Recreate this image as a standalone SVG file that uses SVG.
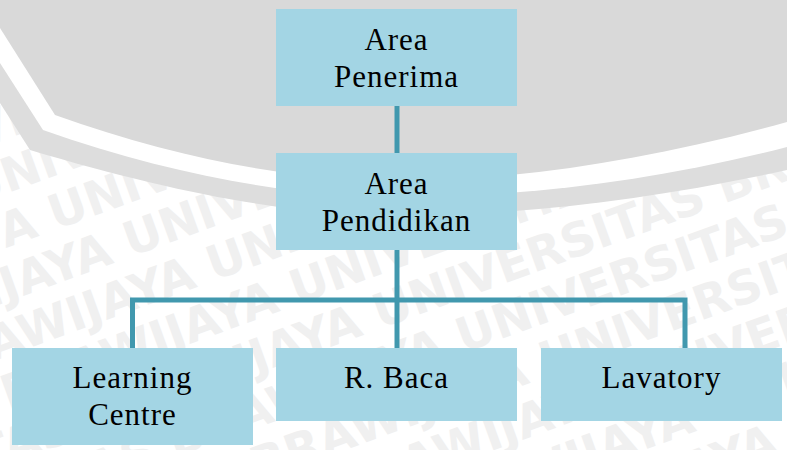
<svg xmlns="http://www.w3.org/2000/svg" width="787" height="450" viewBox="0 0 787 450">
  <style>
    .wm { font-family: "DejaVu Sans", sans-serif; font-weight: bold; font-size: 47px; fill: #f0f0f0; }
    .box { fill: #a3d5e4; }
    .lbl { font-family: "Liberation Serif", serif; font-size: 31px; letter-spacing: 1px; fill: #000; text-anchor: middle; }
    .wire { fill: none; stroke: #4198ae; stroke-width: 5; stroke-linecap: butt; stroke-linejoin: miter; }
  </style>

  <!-- background -->
  <rect x="0" y="0" width="787" height="450" fill="#ffffff"/>

  <!-- faint repeated lettering -->
  <g id="backdrop-lettering" class="wm" transform="rotate(-20)">
    <text x="-474" y="133">BRAWIJAYA UNIVERSITAS BRAWIJAYA UNIVERSITAS BRAWIJAYA UNIVERSITAS</text>
    <text x="-404" y="184">BRAWIJAYA UNIVERSITAS BRAWIJAYA UNIVERSITAS BRAWIJAYA UNIVERSITAS</text>
    <text x="-334" y="235">BRAWIJAYA UNIVERSITAS BRAWIJAYA UNIVERSITAS BRAWIJAYA UNIVERSITAS</text>
    <text x="-946" y="286">BRAWIJAYA UNIVERSITAS BRAWIJAYA UNIVERSITAS BRAWIJAYA UNIVERSITAS</text>
    <text x="-876" y="337">BRAWIJAYA UNIVERSITAS BRAWIJAYA UNIVERSITAS BRAWIJAYA UNIVERSITAS</text>
    <text x="-806" y="388">BRAWIJAYA UNIVERSITAS BRAWIJAYA UNIVERSITAS BRAWIJAYA UNIVERSITAS</text>
    <text x="-736" y="439">BRAWIJAYA UNIVERSITAS BRAWIJAYA UNIVERSITAS BRAWIJAYA UNIVERSITAS</text>
    <text x="-666" y="490">BRAWIJAYA UNIVERSITAS BRAWIJAYA UNIVERSITAS BRAWIJAYA UNIVERSITAS</text>
    <text x="-596" y="541">BRAWIJAYA UNIVERSITAS BRAWIJAYA UNIVERSITAS BRAWIJAYA UNIVERSITAS</text>
    <text x="-526" y="592">BRAWIJAYA UNIVERSITAS BRAWIJAYA UNIVERSITAS BRAWIJAYA UNIVERSITAS</text>
    <text x="-456" y="643">BRAWIJAYA UNIVERSITAS BRAWIJAYA UNIVERSITAS BRAWIJAYA UNIVERSITAS</text>
    <text x="-386" y="694">BRAWIJAYA UNIVERSITAS BRAWIJAYA UNIVERSITAS BRAWIJAYA UNIVERSITAS</text>
  </g>

  <!-- dome: outer grey rim, white ring, inner grey field -->
  <g id="backdrop-dome">
    <path d="M0,0 H787 V170 C650,200 520,215 400,216 C300,216 180,195 30,150 L0,103 Z" fill="#dddddd"/>
    <path d="M0,0 H787 V147 C650,182 520,197 400,197 C300,197 180,178 43,130 L0,63 Z" fill="#ffffff"/>
    <path d="M0,0 H787 V122 C650,160 520,180 400,181 C300,181 180,160 55,115 L0,28 Z" fill="#d9d9d9"/>
  </g>

  <!-- connectors -->
  <g id="connectors" class="wire">
    <line x1="397" y1="106" x2="397" y2="153"/>
    <line x1="397" y1="250" x2="397" y2="348"/>
    <polyline points="132.5,348 132.5,300 685,300 685,348"/>
  </g>

  <!-- nodes -->
  <g id="area-penerima">
    <rect class="box" x="276" y="9" width="241" height="97"/>
    <text class="lbl" x="396.5" y="50">Area</text>
    <text class="lbl" x="396.5" y="87">Penerima</text>
  </g>

  <g id="area-pendidikan">
    <rect class="box" x="276" y="153" width="241" height="97"/>
    <text class="lbl" x="396.5" y="194">Area</text>
    <text class="lbl" x="396.5" y="231">Pendidikan</text>
  </g>

  <g id="learning-centre">
    <rect class="box" x="12" y="348" width="241" height="97"/>
    <text class="lbl" x="132.5" y="388">Learning</text>
    <text class="lbl" x="132.5" y="425">Centre</text>
  </g>

  <g id="r-baca">
    <rect class="box" x="276" y="348" width="241" height="73"/>
    <text class="lbl" x="396.5" y="388">R. Baca</text>
  </g>

  <g id="lavatory">
    <rect class="box" x="541" y="348" width="241" height="73"/>
    <text class="lbl" x="661.5" y="388">Lavatory</text>
  </g>
</svg>
